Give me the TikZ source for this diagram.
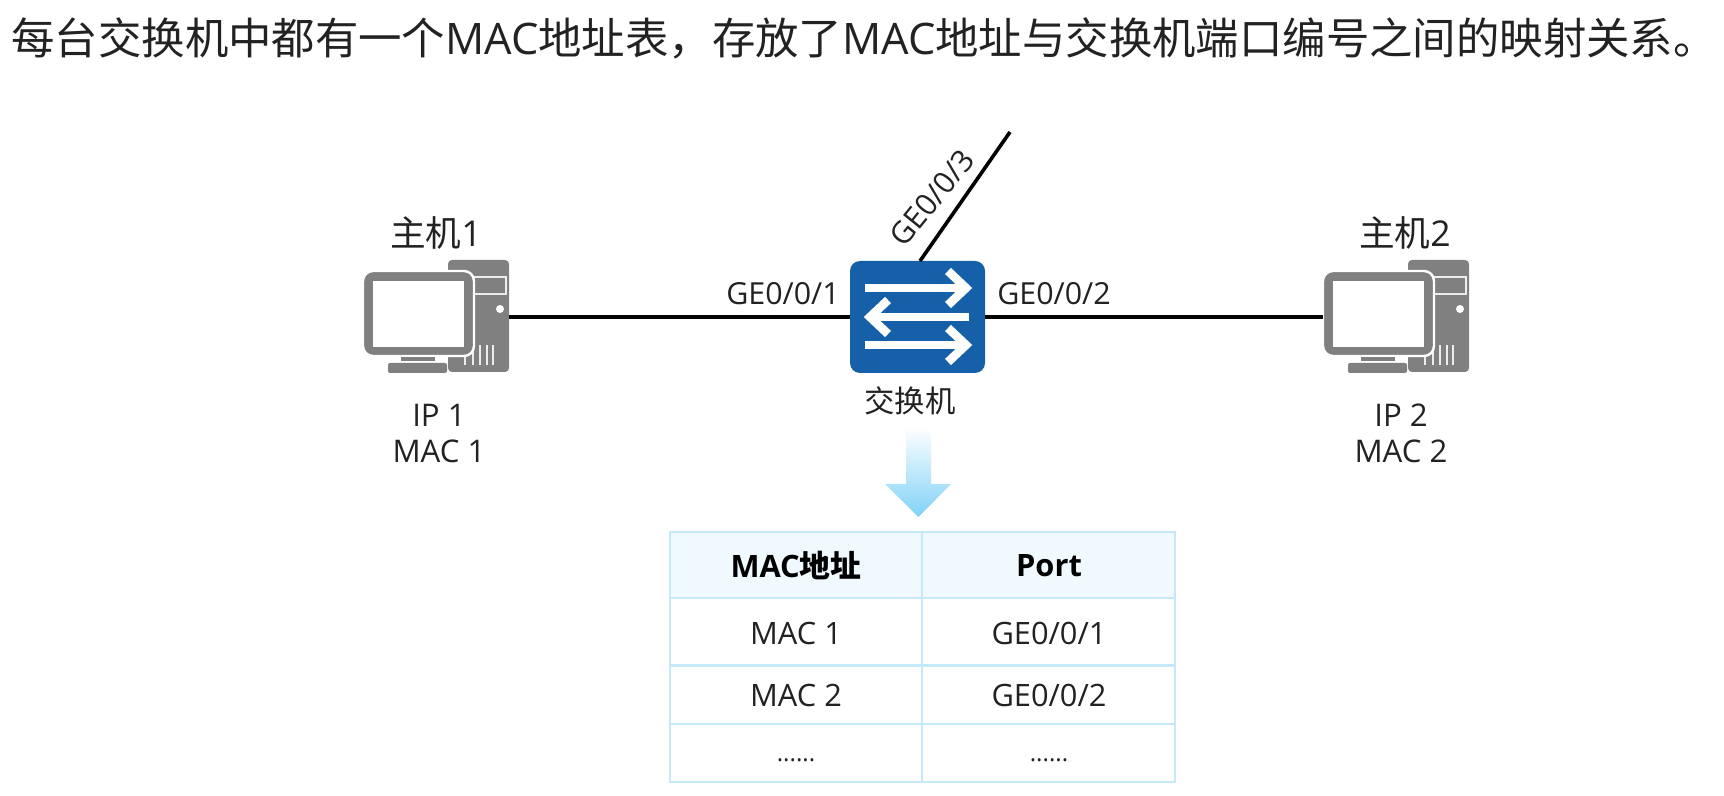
\documentclass[tikz,border=0pt]{standalone}
\usepackage{fontspec}
\setmainfont{Open Sans}
\newfontfamily\cjk{Noto Sans CJK SC}
\usetikzlibrary{shadings}
\definecolor{swblue}{HTML}{1560A8}
\definecolor{pcgray}{HTML}{808080}
\definecolor{tline}{HTML}{C5E9F8}
\definecolor{thead}{HTML}{F0F9FE}
\definecolor{txt}{HTML}{222222}
\definecolor{arrowtop}{HTML}{FFFFFF}
\definecolor{arrowbot}{HTML}{80D2F7}
\tikzset{
  x=0.5pt,y=-0.5pt,
  lbl/.style={font=\fontsize{15.2}{18.2}\selectfont,text=txt,inner sep=0pt,align=center},
  addr/.style={font=\fontsize{15.6}{18.2}\selectfont,text=txt,inner sep=0pt,align=center},
  hostlbl/.style={font=\fontsize{17.8}{20}\selectfont,text=txt,inner sep=0pt},
  celltxt/.style={font=\fontsize{15.4}{18}\selectfont,text=txt,inner sep=0pt},
  dotstxt/.style={font=\fontsize{12}{14}\selectfont,text=txt,inner sep=0pt},
  headtxt/.style={font=\fontsize{15.4}{18}\selectfont\bfseries,text=black,inner sep=0pt},
  wire/.style={line width=1.8pt,black},
  tbl/.style={line width=1.2pt,tline},
  hostbox/.style={minimum width=73pt,minimum height=56pt,inner sep=0pt},
  swbox/.style={fill=swblue,rounded corners=5pt,minimum width=67.5pt,minimum height=56pt,inner sep=0pt},
  swarrow/.style={white,line width=4.3pt,line join=miter,line cap=butt},
}
\newcommand{\pcicon}[1]{%
 \begin{scope}[shift={(#1)}]
  % tower
  \fill[pcgray,rounded corners=2pt] (448,260) rectangle (509,372);
  \draw[white!85!pcgray,line width=0.7pt] (470,277) rectangle (506,294);
  \fill[white] (500,309) circle (4);
  \foreach \vx in {465,473,480,487,493} \fill[white!85!pcgray] (\vx-1.3,345) rectangle (\vx+1.3,365);
  % monitor
  \draw[white,line width=1.2pt,fill=pcgray,rounded corners=5pt] (363,271) rectangle (474,356);
  \fill[white] (373,281) rectangle (464,347);
  \fill[pcgray] (401,357) rectangle (435,361);
  \fill[pcgray,rounded corners=1pt] (388,363) rectangle (447,373);
 \end{scope}}
\begin{document}
\begin{tikzpicture}
\useasboundingbox (0,0) rectangle (1724,796);
\fill[white] (0,0) rectangle (1724,796);
\node[anchor=west,inner sep=0pt,text=txt,font=\fontsize{21.7}{24}\selectfont] (title) at (11,38)
 {{\cjk 每台交换机中都有一个}MAC{\cjk 地址表，存放了}MAC{\cjk 地址与交换机端口编号之间的映射关系。}};
% devices
\pcicon{0,0}
\pcicon{960,0}
\node[hostbox] (host1) at (436,317) {};
\node[hostbox] (host2) at (1396,317) {};
\node[swbox] (sw) at (917.5,317) {};
\coordinate (uplink) at (1010,132);
\coordinate (swtop) at (920,261);
\draw[wire] (host1.east) -- (sw.west);
\draw[wire] (sw.east) -- (host2.west);
\draw[wire] (swtop) -- (uplink);
% switch arrows
\draw[swarrow] (865,288) -- (966,288);
\draw[swarrow] (948,271) -- (966,288) -- (948,305);
\draw[swarrow] (969,317) -- (870,317);
\draw[swarrow] (888,300) -- (870,317) -- (888,334);
\draw[swarrow] (865,345) -- (966,345);
\draw[swarrow] (948,328) -- (966,345) -- (948,362);
% labels
\node[hostlbl] (h1name) at (436,233) {{\cjk 主机}1};
\node[hostlbl] (h2name) at (1405,233) {{\cjk 主机}2};
\node[addr] (h1addr) at (439,433.5) {IP 1\\MAC 1};
\node[addr] (h2addr) at (1401,433.5) {IP 2\\MAC 2};
\node[lbl] (swname) at (910,401) {\cjk 交换机};
\node[lbl] (p1) at (783,294) {GE0/0/1};
\node[lbl] (p2) at (1054,294) {GE0/0/2};
\node[lbl,rotate=51] (p3) at (932,198) {GE0/0/3};
% big arrow
\shade[top color=arrowtop,bottom color=arrowbot,draw=none] (906,427) -- (931,427) -- (931,484) -- (951,484) -- (918.5,517) -- (885,484) -- (906,484) -- cycle;
% table
\fill[thead] (670,532) rectangle (1175,598);
\draw[tbl] (670,532) rectangle (1175,782);
\draw[tbl] (670,598) -- (1175,598);
\draw[tbl] (670,665.5) -- (1175,665.5);
\draw[tbl] (670,724) -- (1175,724);
\draw[tbl] (922,532) -- (922,782);
\node[headtxt] (th1) at (796,566) {MAC{\cjk\bfseries 地址}};
\node[headtxt] (th2) at (1049,566) {Port};
\node[celltxt] (c11) at (796,633) {MAC 1};
\node[celltxt] (c12) at (1049,633) {GE0/0/1};
\node[celltxt] (c21) at (796,695) {MAC 2};
\node[celltxt] (c22) at (1049,695) {GE0/0/2};
\node[dotstxt] (c31) at (796,760) {......};
\node[dotstxt] (c32) at (1049,760) {......};
\end{tikzpicture}
\end{document}
